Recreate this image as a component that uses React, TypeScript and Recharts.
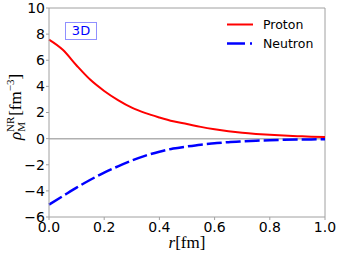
import { LineChart, Line, XAxis, YAxis, ReferenceLine } from "recharts";

const radius = [0, 0.05, 0.1, 0.15, 0.2, 0.25, 0.3, 0.35, 0.4, 0.45, 0.5, 0.55, 0.6, 0.65, 0.7, 0.75, 0.8, 0.85, 0.9, 0.95, 1.0];
const proton = [7.58, 6.8, 5.6, 4.5, 3.65, 2.95, 2.37, 1.95, 1.62, 1.33, 1.12, 0.9, 0.72, 0.57, 0.45, 0.36, 0.29, 0.23, 0.19, 0.15, 0.12];
const neutron = [-5.05, -4.4, -3.75, -3.15, -2.6, -2.12, -1.68, -1.3, -1.0, -0.76, -0.6, -0.46, -0.36, -0.27, -0.21, -0.16, -0.12, -0.09, -0.07, -0.06, -0.05];
const xTicks = [0, 0.2, 0.4, 0.6, 0.8, 1.0];
const yTicks = [-6, -4, -2, 0, 2, 4, 6, 8, 10];
const seriesNames = ["Proton", "Neutron"];

const rows = radius.map((r, i) => ({ r, proton: proton[i], neutron: neutron[i] }));

const SPINE = "#a0a0a0";
const NEUTRON_DASH = "15 4";

function YLabel() {
  const cx = 21;
  const cy = 107;
  return (
    <text x={cx} y={cy} transform={`rotate(-90 ${cx} ${cy})`} textAnchor="middle" fontFamily="Liberation Serif" fontSize={17} fill="#000">
      <tspan fontStyle="italic">ρ</tspan>
      <tspan fontSize={11} dy={-7}>NR</tspan>
      <tspan fontSize={11} dx={-15} dy={11}>M</tspan>
      <tspan dx={6} dy={-4}>[fm</tspan>
      <tspan fontSize={11} dy={-7}>−3</tspan>
      <tspan dy={7}>]</tspan>
    </text>
  );
}

function XLabel() {
  return (
    <text x={187} y={248} textAnchor="middle" fontFamily="Liberation Serif" fontSize={17} fill="#000">
      <tspan fontStyle="italic">r</tspan>
      <tspan>[fm]</tspan>
    </text>
  );
}

export default function App() {
  const tickStyle = { fontSize: 14, fill: "#000", fontFamily: "DejaVu Sans" };
  return (
    <div style={{ position: "absolute", left: 0, top: 0, width: 340, height: 257, background: "#fff" }}>
      <LineChart width={340} height={257} data={rows} margin={{ top: 8, right: 15, bottom: 0, left: 0 }}>
        <XAxis
          dataKey="r"
          type="number"
          domain={[0, 1]}
          ticks={xTicks}
          tickFormatter={(v: number) => v.toFixed(1)}
          height={40}
          tickSize={3}
          tickMargin={2}
          stroke={SPINE}
          tick={tickStyle}
          label={<XLabel />}
        />
        <YAxis
          type="number"
          domain={[-6, 10]}
          ticks={yTicks}
          tickFormatter={(v: number) => (v < 0 ? `−${Math.abs(v)}` : `${v}`)}
          width={49}
          tickSize={3}
          tickMargin={1}
          stroke={SPINE}
          tick={tickStyle}
          label={<YLabel />}
        />
        <ReferenceLine y={10} stroke={SPINE} />
        <ReferenceLine x={1} stroke={SPINE} />
        <ReferenceLine y={0} stroke="#b0b0b0" strokeWidth={1.5} />
        <Line dataKey="proton" name={seriesNames[0]} type="monotone" stroke="#ff0000" strokeWidth={2} dot={false} isAnimationActive={false} />
        <Line dataKey="neutron" name={seriesNames[1]} type="monotone" stroke="#0000ff" strokeWidth={2.5} strokeDasharray={NEUTRON_DASH} dot={false} isAnimationActive={false} />
      </LineChart>
      <div
        style={{
          position: "absolute",
          left: 65,
          top: 22,
          width: 30,
          height: 16,
          border: "1px solid #9090ff",
          color: "#0000ff",
          fontFamily: "DejaVu Sans",
          fontSize: 13,
          lineHeight: "16px",
          textAlign: "center",
        }}
      >
        3D
      </div>
      <svg style={{ position: "absolute", left: 220, top: 12 }} width={115} height={42}>
        <line x1={7} x2={33} y1={12.5} y2={12.5} stroke="#ff0000" strokeWidth={2} />
        <text x={43} y={17} fontFamily="DejaVu Sans" fontSize={12.5} fill="#000">{seriesNames[0]}</text>
        <line x1={7} x2={33} y1={31.5} y2={31.5} stroke="#0000ff" strokeWidth={2.5} strokeDasharray="18 5 2 5" />
        <text x={43} y={36} fontFamily="DejaVu Sans" fontSize={12.5} fill="#000">{seriesNames[1]}</text>
      </svg>
    </div>
  );
}
